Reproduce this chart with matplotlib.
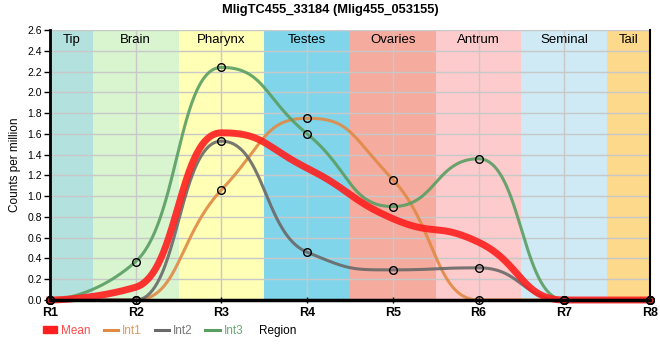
import matplotlib
matplotlib.use("Agg")
import matplotlib.pyplot as plt
from matplotlib.lines import Line2D
from matplotlib.patches import Patch
import numpy as np

plt.rcParams['font.family'] = ['Liberation Sans', 'DejaVu Sans']

regions = ['R1', 'R2', 'R3', 'R4', 'R5', 'R6', 'R7', 'R8']
int1 = [0.0, 0.0, 1.06, 1.75, 1.16, 0.0, 0.0, 0.0]
int2 = [0.0, 0.0, 1.53, 0.46, 0.29, 0.31, 0.0, 0.0]
int3 = [0.0, 0.37, 2.24, 1.60, 0.90, 1.36, 0.0, 0.0]

band_names = ['Tip', 'Brain', 'Pharynx', 'Testes', 'Ovaries', 'Antrum', 'Seminal', 'Tail']
band_colors = ['#b3e1dd', '#d8f5d0', '#ffffb5', '#80d5eb', '#f6ab9f', '#fecbcc', '#cfeaf4', '#fdd98b']

c_mean = '#ff1f1f'
c_int1 = '#e08a45'
c_int2 = '#696969'
c_int3 = '#5a9e63'

SMOOTH = 1.0  # control points at 1/(SMOOTH+1) of the gap


def spline_curve(x, y, n=80):
    # bezier spline through the points, flat at local extremes
    x = np.asarray(x, float)
    y = np.asarray(y, float)
    npt = len(x)
    den = SMOOTH + 1
    lc = [(x[i], y[i]) for i in range(npt)]
    rc = [(x[i], y[i]) for i in range(npt)]
    for i in range(1, npt - 1):
        lx = (SMOOTH * x[i] + x[i - 1]) / den
        ly = (SMOOTH * y[i] + y[i - 1]) / den
        rx = (SMOOTH * x[i] + x[i + 1]) / den
        ry = (SMOOTH * y[i] + y[i + 1]) / den
        corr = (ry - ly) * (rx - x[i]) / (rx - lx) + y[i] - ry
        ly += corr
        ry += corr
        if ly > y[i - 1] and ly > y[i]:
            ly = max(y[i - 1], y[i]); ry = 2 * y[i] - ly
        elif ly < y[i - 1] and ly < y[i]:
            ly = min(y[i - 1], y[i]); ry = 2 * y[i] - ly
        if ry > y[i + 1] and ry > y[i]:
            ry = max(y[i + 1], y[i]); ly = 2 * y[i] - ry
        elif ry < y[i + 1] and ry < y[i]:
            ry = min(y[i + 1], y[i]); ly = 2 * y[i] - ry
        lc[i] = (lx, ly)
        rc[i] = (rx, ry)
    t = np.linspace(0, 1, n)[:, None]
    out = []
    for i in range(npt - 1):
        p0 = np.array([x[i], y[i]])
        p1 = np.array(rc[i])
        p2 = np.array(lc[i + 1])
        p3 = np.array([x[i + 1], y[i + 1]])
        seg = ((1 - t)**3 * p0 + 3 * (1 - t)**2 * t * p1 + 3 * (1 - t) * t**2 * p2 + t**3 * p3)
        out.append(seg if i == 0 else seg[1:])
    out = np.vstack(out)
    return out[:, 0], out[:, 1]


xpos = np.arange(1, len(regions) + 1)
mean = (np.array(int1) + np.array(int2) + np.array(int3)) / 3

fig = plt.figure(figsize=(6.6, 3.6), dpi=100)
ax = fig.add_axes([50 / 660, 60 / 360, 600 / 660, 270 / 360])

# region bands
edges = [1, 1.5, 2.5, 3.5, 4.5, 5.5, 6.5, 7.5, 8]
for i, name in enumerate(band_names):
    ax.axvspan(edges[i], edges[i + 1], color=band_colors[i], lw=0, zorder=0)
    ax.text((edges[i] + edges[i + 1]) / 2, 2.505, name, ha='center', va='center',
            fontsize=9.5, zorder=5)

ax.set_xlim(1, 8)
ax.set_ylim(0, 2.6)
yt = np.arange(0, 2.61, 0.2)
ax.set_yticks(yt)
ax.set_yticklabels(['%.1f' % v for v in yt], fontsize=7.5)
ax.set_xticks(xpos)
ax.set_xticklabels(regions, fontsize=9, fontweight='bold')
ax.grid(True, color='#c8c8c8', lw=1, zorder=1)
ax.set_axisbelow(False)
ax.spines['top'].set_visible(False)
ax.spines['left'].set_linewidth(2)
ax.spines['right'].set_linewidth(1.5)
ax.spines['bottom'].set_linewidth(2.5)
for s in ['left', 'right', 'bottom']:
    ax.spines[s].set_zorder(6)
ax.tick_params(axis='y', length=4, width=1, pad=2)
ax.tick_params(axis='x', length=4, width=1, direction='inout', pad=3)

series = [(int1, c_int1), (int2, c_int2), (int3, c_int3)]
for vals, col in series:
    sx, sy = spline_curve(xpos, vals)
    ax.plot(sx, sy, color=col, lw=2.2, alpha=0.9, zorder=3)
sx, sy = spline_curve(xpos, mean)
ax.plot(sx, sy, color=c_mean, lw=5, alpha=0.9, zorder=4, clip_on=False)
for vals, col in series:
    ax.plot(xpos, vals, 'o', mfc='none', mec='black', mew=1, ms=5.5, zorder=7,
            clip_on=False)

ax.set_ylabel('Counts per million', fontsize=8.5, labelpad=4)
fig.text(278 / 660, 1 - 331 / 360, 'Region', ha='center', va='center', fontsize=8.5)
fig.text(330 / 660, 1 - 10 / 360, 'MligTC455_33184 (Mlig455_053155)', ha='center', va='center',
         fontsize=9.3, fontweight='bold')

handles = [Patch(color=c_mean), Line2D([], [], color=c_int1, lw=2.2),
           Line2D([], [], color=c_int2, lw=2.2), Line2D([], [], color=c_int3, lw=2.2)]
labels = ['Mean', 'Int1', 'Int2', 'Int3']
leg = fig.legend(handles, labels, loc='center left', bbox_to_anchor=(38 / 660, 1 - 331 / 360),
                 ncol=4, frameon=False, fontsize=8.5, handlelength=1.2, handleheight=0.55,
                 handletextpad=0.35, columnspacing=1.1, borderaxespad=0)
text_cols = ['#ff4a4a', '#e09a60', '#777777', '#66aa70']
for txt, col in zip(leg.get_texts(), text_cols):
    txt.set_color(col)

fig.savefig('out.png', dpi=100)
